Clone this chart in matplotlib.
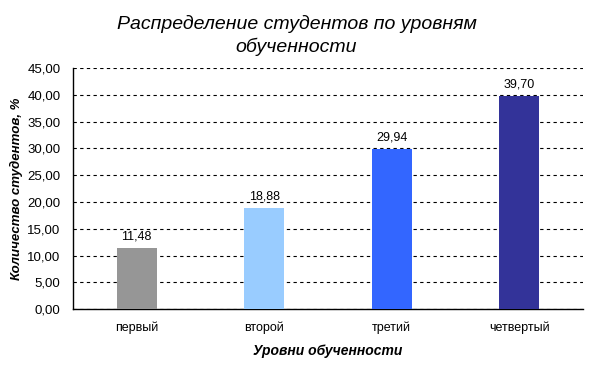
import matplotlib
matplotlib.use("Agg")
import matplotlib.pyplot as plt

FONT = "Liberation Sans"

levels = ["первый", "второй", "третий", "четвертый"]
shares = [11.48, 18.88, 29.94, 39.70]
bar_colors = ["#969696", "#99CCFF", "#3366FF", "#333399"]

plt.rcParams["font.family"] = [FONT, "DejaVu Sans"]

fig = plt.figure(figsize=(5.98, 3.65), dpi=100)
ax = fig.add_axes([0.122, 0.153, 0.853, 0.661])

x = range(len(levels))
ax.bar(x, shares, width=0.314, color=bar_colors, zorder=3)
for xi, v in zip(x, shares):
    ax.text(xi, v + 1.0, f"{v:.2f}".replace(".", ","), ha="center", va="bottom",
            fontsize=9)

ax.set_xlim(-0.5, len(levels) - 0.5)
ax.set_ylim(0, 45)
yt = range(0, 46, 5)
ax.set_yticks(yt)
ax.set_yticklabels([f"{t:.2f}".replace(".", ",") for t in yt], fontsize=9.5)
ax.set_xticks(list(x))
ax.set_xticklabels(levels, fontsize=9)
ax.tick_params(axis="both", length=0, pad=9)

ax.yaxis.grid(True, linestyle=(0, (3, 3)), color="black", linewidth=0.8, zorder=0)
for s in ["top", "right"]:
    ax.spines[s].set_visible(False)
ax.spines["left"].set_linewidth(1.0)
ax.spines["bottom"].set_linewidth(1.0)

ax.set_xlabel("Уровни обученности", fontsize=10, fontweight="bold", style="italic",
              labelpad=7)
ax.set_ylabel("Количество студентов, %", fontsize=9.5, fontweight="bold",
              style="italic", labelpad=3)
fig.text(0.496, 0.903, "Распределение студентов по уровням\nобученности",
         ha="center", va="center", fontsize=14, style="italic", linespacing=1.3)

fig.savefig("out.png", dpi=100)
